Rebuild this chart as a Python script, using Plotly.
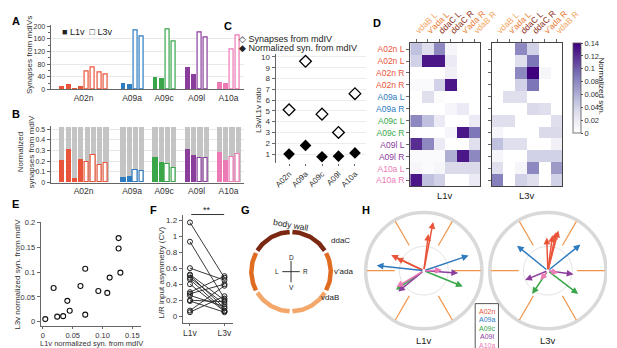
import numpy as np
import plotly.graph_objects as go

W, H = 617, 348
FONT = "Arial, 'Liberation Sans', Helvetica, sans-serif"
TXT = "#333333"
AXC = "#666666"


def px(x):
    return x / W


def py(y):
    return 1 - y / H


# ---------------- data ----------------
GROUPS = ["A02n", "A09a", "A09c", "A09l", "A10a"]
GROUP_COLORS = ["#e9553b", "#2f7bbf", "#3aa64a", "#8b3d9c", "#ec7ab5"]

# A: synapses from mdIVs (per neuron), L1v filled / L3v open
A_L1V = [[10, 16, 1, 8], [18, 17], [38, 35], [70, 46], [22, 18]]
A_L3V = [[56, 68, 53, 47], [188, 167], [189, 153], [180, 166], [128, 170]]

# B: normalized synapses from mdIV
B_L1V = [[0.21, 0.31, 0.045, 0.22], [0.055, 0.065], [0.24, 0.195], [0.31, 0.26], [0.285, 0.21]]
B_L3V = [[0.19, 0.26, 0.165, 0.18], [0.12, 0.11], [0.175, 0.135], [0.225, 0.225], [0.24, 0.27]]
B_TOTAL = 0.52

# C: L3v/L1v ratio
C_SYN_RATIO = [5.1, 9.6, 4.7, 3.0, 6.6]
C_NORM_RATIO = [1.0, 1.8, 0.75, 0.8, 1.1]

# D: heatmaps
D_ROWS = ["A02n L", "A02n L", "A02n R", "A02n R", "A09a L", "A09a R",
          "A09c L", "A09c R", "A09l L", "A09l R", "A10a L", "A10a R"]
D_ROW_GROUP = [0, 0, 0, 0, 1, 1, 2, 2, 3, 3, 4, 4]
D_COLS = ["vdaB L", "v'ada L", "ddaC L", "ddaC R", "v'ada R", "vdaB R"]
D_COL_COLORS = ["#f4a45c", "#e8772c", "#8a2a12", "#8a2a12", "#e8772c", "#f4a45c"]
D_L1V = [
    [0.05, 0.03, 0.08, 0.01, 0.0, 0.0],
    [0.04, 0.13, 0.13, 0.02, 0.0, 0.0],
    [0.0, 0.0, 0.0, 0.015, 0.0, 0.0],
    [0.005, 0.005, 0.04, 0.13, 0.0, 0.0],
    [0.0, 0.03, 0.003, 0.0, 0.0, 0.0],
    [0.0, 0.0, 0.0, 0.01, 0.02, 0.0],
    [0.08, 0.05, 0.02, 0.0, 0.0, 0.02],
    [0.0, 0.0, 0.0, 0.01, 0.13, 0.09],
    [0.12, 0.08, 0.02, 0.0, 0.0, 0.03],
    [0.005, 0.005, 0.005, 0.06, 0.13, 0.08],
    [0.01, 0.005, 0.01, 0.035, 0.035, 0.035],
    [0.13, 0.05, 0.04, 0.0, 0.0, 0.02],
]
D_L3V = [
    [0.0, 0.0, 0.08, 0.04, 0.0, 0.0],
    [0.0, 0.0, 0.03, 0.09, 0.0, 0.0],
    [0.0, 0.0, 0.08, 0.14, 0.01, 0.0],
    [0.0, 0.0, 0.04, 0.09, 0.0, 0.0],
    [0.0, 0.03, 0.03, 0.0, 0.0, 0.0],
    [0.0, 0.0, 0.0, 0.035, 0.03, 0.0],
    [0.03, 0.03, 0.0, 0.0, 0.0, 0.03],
    [0.01, 0.0, 0.0, 0.0, 0.035, 0.035],
    [0.05, 0.03, 0.03, 0.0, 0.0, 0.015],
    [0.01, 0.0, 0.0, 0.04, 0.04, 0.04],
    [0.03, 0.0, 0.01, 0.08, 0.0, 0.07],
    [0.085, 0.0, 0.04, 0.03, 0.0, 0.04],
]
D_CB_TICKS = [0, 0.02, 0.04, 0.06, 0.08, 0.1, 0.12, 0.14]

# E: scatter
E_L1V = [0.004, 0.018, 0.024, 0.034, 0.041, 0.045, 0.063, 0.071, 0.071, 0.093, 0.108, 0.112, 0.127, 0.127, 0.130]
E_L3V = [0.005, 0.068, 0.010, 0.011, 0.042, 0.022, 0.072, 0.107, 0.014, 0.062, 0.058, 0.089, 0.148, 0.169, 0.099]

# F: L/R input asymmetry
F_L1V = [1.17, 0.93, 0.60, 0.52, 0.51, 0.48, 0.46, 0.40, 0.30, 0.28, 0.26, 0.20, 0.19, 0.07, 0.05]
F_L3V = [0.48, 0.22, 0.45, 0.20, 0.10, 0.15, 0.07, 0.06, 0.50, 0.40, 0.12, 0.18, 0.05, 0.38, 0.25]

# G: body wall segments (name, start deg, end deg)
G_NAMES = ["ddaC", "ddaC", "v'ada", "vdaB", "vdaB", "v'ada"]
G_START = [32, 92, 152, 212, 272, 332]
G_END = [88, 148, 208, 268, 328, 388]
G_COLORS = {"ddaC": "#7b2812", "v'ada": "#e06c22", "vdaB": "#f3a76a"}

# H: input vectors (group index, x, y) in units of the outer ring radius
H_L1V_G = [0, 0, 0, 0, 1, 1, 2, 2, 3, 3, 4, 4]
H_L1V_X = [0.16, 0.08, -0.56, -0.47, -0.81, 0.77, 0.67, -0.48, 0.59, -0.44, 0.31, -0.47]
H_L1V_Y = [0.84, 0.63, 0.27, 0.22, 0.09, 0.26, -0.27, -0.33, -0.04, -0.36, 0.01, -0.28]
H_L3V_G = [0, 0, 0, 0, 1, 1, 2, 2, 3, 3, 4, 4]
H_L3V_X = [-0.02, 0.08, 0.14, 0.18, -0.53, 0.56, 0.52, -0.27, -0.39, 0.44, -0.13, 0.18]
H_L3V_Y = [0.57, 0.61, 0.66, 0.69, 0.43, 0.45, -0.40, -0.40, -0.16, -0.06, -0.16, -0.04]

# ---------------- figure ----------------
fig = go.Figure()

GROUP_CENTER = [77, 127, 160, 193.5, 226.5]
SLOT = 6.5
BAR_W = 5.0

for g, name in enumerate(GROUPS):
    col = GROUP_COLORS[g]
    n1, n3 = len(A_L1V[g]), len(A_L3V[g])
    n = n1 + n3
    xs = [GROUP_CENTER[g] + (k - (n - 1) / 2) * SLOT for k in range(n)]
    fig.add_trace(go.Bar(x=xs[:n1], y=A_L1V[g], width=BAR_W,
                         marker=dict(color=col, line=dict(width=0)),
                         xaxis="x", yaxis="y", showlegend=False, hoverinfo="skip"))
    fig.add_trace(go.Bar(x=xs[n1:], y=A_L3V[g], width=BAR_W - 0.8,
                         marker=dict(color="white", line=dict(color=col, width=1.2)),
                         xaxis="x", yaxis="y", showlegend=False, hoverinfo="skip"))
    fig.add_trace(go.Bar(x=xs, y=[B_TOTAL] * n, width=BAR_W + 0.3,
                         marker=dict(color="#c4c4c4", line=dict(width=0)),
                         xaxis="x2", yaxis="y2", showlegend=False, hoverinfo="skip"))
    fig.add_trace(go.Bar(x=xs[:n1], y=B_L1V[g], width=BAR_W + 0.3,
                         marker=dict(color=col, line=dict(width=0)),
                         xaxis="x2", yaxis="y2", showlegend=False, hoverinfo="skip"))
    fig.add_trace(go.Bar(x=xs[n1:], y=B_L3V[g], width=BAR_W - 0.6,
                         marker=dict(color="white", line=dict(color=col, width=1.2)),
                         xaxis="x2", yaxis="y2", showlegend=False, hoverinfo="skip"))

# C
cx = list(range(len(GROUPS)))
fig.add_trace(go.Scatter(x=cx, y=C_SYN_RATIO, mode="markers",
                         marker=dict(symbol="diamond-open", size=9, color="black", line=dict(width=1.3)),
                         xaxis="x3", yaxis="y3", showlegend=False))
fig.add_trace(go.Scatter(x=cx, y=C_NORM_RATIO, mode="markers",
                         marker=dict(symbol="diamond", size=9, color="black"),
                         xaxis="x3", yaxis="y3", showlegend=False))

# D
fig.add_trace(go.Heatmap(z=D_L1V, x=list(range(6)), y=list(range(12)), coloraxis="coloraxis",
                         xaxis="x4", yaxis="y4"))
fig.add_trace(go.Heatmap(z=D_L3V, x=list(range(6)), y=list(range(12)), coloraxis="coloraxis",
                         xaxis="x5", yaxis="y5"))

# E
fig.add_trace(go.Scatter(x=E_L1V, y=E_L3V, mode="markers",
                         marker=dict(symbol="circle-open", size=5, color="#111", line=dict(width=1.1)),
                         xaxis="x6", yaxis="y6", showlegend=False))

# F
fx, fy = [], []
for a, b in zip(F_L1V, F_L3V):
    fx += [0, 1, None]
    fy += [a, b, None]
fig.add_trace(go.Scatter(x=fx, y=fy, mode="lines+markers",
                         line=dict(color="#222", width=0.9),
                         marker=dict(symbol="circle-open", size=5, color="#222", line=dict(width=1)),
                         xaxis="x7", yaxis="y7", showlegend=False))

# G arcs
for nm, a0, a1 in zip(G_NAMES, G_START, G_END):
    t = np.radians(np.linspace(a0, a1, 40))
    fig.add_trace(go.Scatter(x=np.cos(t), y=np.sin(t), mode="lines",
                             line=dict(color=G_COLORS[nm], width=4.5),
                             xaxis="x8", yaxis="y8", showlegend=False, hoverinfo="skip"))
fig.add_trace(go.Scatter(x=[-0.22, 0.22, None, 0, 0], y=[0, 0, None, -0.27, 0.27], mode="lines",
                         line=dict(color="#333", width=1), xaxis="x8", yaxis="y8",
                         showlegend=False, hoverinfo="skip"))


def ax(**kw):
    base = dict(showgrid=False, zeroline=False, showline=True, linecolor=AXC, linewidth=1,
                ticks="outside", ticklen=3, tickwidth=1, tickcolor=AXC,
                tickfont=dict(size=8, color=TXT, family=FONT), fixedrange=True)
    base.update(kw)
    return base


def hid(**kw):
    base = dict(visible=False, fixedrange=True)
    base.update(kw)
    return base


def colored(text, color):
    return f"<span style='color:{color}'>{text}</span>"


layout = dict(
    width=W, height=H, margin=dict(l=0, r=0, t=0, b=0),
    paper_bgcolor="white", plot_bgcolor="white", barmode="overlay", bargap=0,
    font=dict(family=FONT, size=8, color=TXT), showlegend=False,
    # A
    xaxis=ax(domain=[px(43), px(242)], range=[43, 242], anchor="y", tickmode="array",
             tickvals=GROUP_CENTER, ticktext=GROUPS, ticks="", tickfont=dict(size=8.5, color=TXT)),
    yaxis=ax(domain=[py(75.7), py(9.75)], range=[0, 203], anchor="x", tick0=0, dtick=40,
             showgrid=True, gridcolor="#e8e8e8", gridwidth=0.8, tickfont=dict(size=7, color=TXT),
             minor=dict(dtick=20, ticks="outside", ticklen=2, tickcolor=AXC)),
    # B
    xaxis2=ax(domain=[px(43), px(242)], range=[43, 242], anchor="y2", tickmode="array",
              tickvals=GROUP_CENTER, ticktext=GROUPS, ticks="", tickfont=dict(size=8.5, color=TXT)),
    yaxis2=ax(domain=[py(172), py(113.7)], range=[0, 0.53], anchor="x2", tickmode="array",
              tickvals=[0, 0.1, 0.2, 0.3, 0.4, 0.5], ticktext=["0", "0.1", "0.2", "0.3", "0.4", "0.5"],
              showgrid=True, gridcolor="#e8e8e8", gridwidth=0.8, tickfont=dict(size=7, color=TXT)),
    # C
    xaxis3=ax(domain=[px(275), px(368)], range=[-0.82, 4.65], anchor="y3", tickmode="array",
              tickvals=cx, ticktext=GROUPS, tickangle=-45, showline=False, ticklen=2),
    yaxis3=ax(domain=[py(152), py(39)], range=[0.15, 10.3], anchor="x3", tickmode="array",
              tickvals=list(range(1, 11)), showgrid=True, gridcolor="#ececec", gridwidth=0.8),
    # D
    xaxis4=ax(domain=[px(414), px(486)], range=[-0.5, 5.5], anchor="y4", side="top", mirror=True,
              linecolor="#444", linewidth=1.2, tickmode="array", tickvals=list(range(6)),
              ticktext=[colored(c, k) for c, k in zip(D_COLS, D_COL_COLORS)], tickangle=-45,
              tickfont=dict(size=8.5)),
    yaxis4=ax(domain=[py(176), py(28)], range=[11.5, -0.5], anchor="x4", mirror=True,
              linecolor="#444", linewidth=1.2, tickmode="array", tickvals=list(range(12)),
              ticktext=[colored(r, GROUP_COLORS[g]) for r, g in zip(D_ROWS, D_ROW_GROUP)],
              tickfont=dict(size=8.5)),
    xaxis5=ax(domain=[px(498), px(571)], range=[-0.5, 5.5], anchor="y5", side="top", mirror=True,
              linecolor="#444", linewidth=1.2, tickmode="array", tickvals=list(range(6)),
              ticktext=[colored(c, k) for c, k in zip(D_COLS, D_COL_COLORS)], tickangle=-45,
              tickfont=dict(size=8.5)),
    yaxis5=ax(domain=[py(176), py(28)], range=[11.5, -0.5], anchor="x5", mirror=True,
              linecolor="#444", linewidth=1.2, tickmode="array", tickvals=list(range(12)),
              showticklabels=False),
    coloraxis=dict(cmin=0, cmax=0.14,
                   colorscale=[[0, "#ffffff"], [0.125, "#efedf5"], [0.25, "#dadaeb"], [0.375, "#bcbddc"],
                               [0.5, "#9e9ac8"], [0.625, "#807dba"], [0.75, "#6a51a3"],
                               [0.875, "#54278f"], [1, "#3f007d"]],
                   colorbar=dict(x=px(582), xanchor="left", xpad=0, y=py(28), yanchor="top", ypad=0,
                                 len=(121 - 28) / H, lenmode="fraction", thickness=8,
                                 outlinewidth=0.8, outlinecolor="#555", tickmode="array",
                                 tickvals=D_CB_TICKS,
                                 ticktext=["0", "0.02", "0.04", "0.06", "0.08", "0.1", "0.12", "0.14"],
                                 ticks="outside", ticklen=2, tickcolor="#555",
                                 tickfont=dict(size=7.5, color=TXT))),
    # E
    xaxis6=ax(domain=[px(32.7), px(136.7)], range=[-0.0037, 0.1654], anchor="y6", tickmode="array",
              tickvals=[0, 0.05, 0.1, 0.15], ticktext=["0", "0.05", "0.10", "0.15"],
              ticklen=2, tickfont=dict(size=7.5, color=TXT)),
    yaxis6=ax(domain=[py(320.5), py(213)], range=[-0.0097, 0.201], anchor="x6", tickmode="array",
              tickvals=[0, 0.05, 0.1, 0.15, 0.2], ticktext=["0", "0.05", "0.1", "0.15", "0.2"],
              tickfont=dict(size=7.5, color=TXT)),
    # F
    xaxis7=ax(domain=[px(179.3), px(231)], range=[-0.208, 1.244], anchor="y7", tickmode="array",
              tickvals=[0, 1], ticktext=["L1v", "L3v"], ticklen=2, tickfont=dict(size=8.5, color=TXT)),
    yaxis7=ax(domain=[py(317.3), py(205)], range=[-0.088, 1.269], anchor="x7", tickmode="array",
              tickvals=[0, 0.2, 0.4, 0.6, 0.8, 1.0, 1.2], ticktext=["0", "0.2", "0.4", "0.6", "0.8", "1", "1.2"]),
    # G
    xaxis8=hid(domain=[px(246), px(336)], range=[-45 / 41, 45 / 41], anchor="y8"),
    yaxis8=hid(domain=[py(309), py(219)], range=[-45 / 41, 45 / 41], anchor="x8"),
    # H
    xaxis9=hid(domain=[px(365), px(491)], range=[-1.05, 1.05], anchor="y9"),
    yaxis9=hid(domain=[py(326), py(200)], range=[-1.05, 1.05], anchor="x9"),
    xaxis10=hid(domain=[px(493), 1.0], range=[-1.05, 1.0167], anchor="y10"),
    yaxis10=hid(domain=[py(326), py(200)], range=[-1.05, 1.05], anchor="x10"),
)
fig.update_layout(**layout)

shapes = []
ann = []

# H circles, radial lines, arrows
for k, (xr, yr, gs, xs_, ys_) in enumerate([("x9", "y9", H_L1V_G, H_L1V_X, H_L1V_Y),
                                            ("x10", "y10", H_L3V_G, H_L3V_X, H_L3V_Y)]):
    shapes.append(dict(type="circle", xref=xr, yref=yr, x0=-1, y0=-1, x1=1, y1=1,
                       line=dict(color="#d9d9d9", width=3.5), layer="below"))
    shapes.append(dict(type="circle", xref=xr, yref=yr, x0=-0.42, y0=-0.42, x1=0.42, y1=0.42,
                       line=dict(color="#dcdcdc", width=0.8), layer="below"))
    for a in range(0, 360, 60):
        t = np.radians(a)
        shapes.append(dict(type="line", xref=xr, yref=yr, x0=0.5 * np.cos(t), y0=0.5 * np.sin(t),
                           x1=0.98 * np.cos(t), y1=0.98 * np.sin(t),
                           line=dict(color="#f0964c", width=1.2), layer="below"))
    for g, x, y in zip(gs, xs_, ys_):
        ann.append(dict(x=x, y=y, xref=xr, yref=yr, ax=0, ay=0, axref=xr, ayref=yr, text="",
                        showarrow=True, arrowhead=2, arrowsize=0.9, arrowwidth=1.5,
                        arrowcolor=GROUP_COLORS[g], standoff=0, startstandoff=0))

# H legend box
shapes.append(dict(type="rect", xref="paper", yref="paper", x0=px(481), x1=px(505), y0=py(346), y1=py(297),
                   line=dict(color="#555", width=1)))
for i, (gname, gc) in enumerate(zip(GROUPS, GROUP_COLORS)):
    ann.append(dict(x=px(493), y=py(305 + 8.8 * i), xref="paper", yref="paper", text=gname,
                    showarrow=False, font=dict(size=7, color=gc), xanchor="center", yanchor="middle"))

# F significance bar
shapes.append(dict(type="line", xref="paper", yref="paper", x0=px(188), x1=px(222), y0=py(205), y1=py(205),
                   line=dict(color="#333", width=1)))


def text(x, y, s, size=8, color=TXT, angle=0, xanchor="center", bold=False):
    ann.append(dict(x=px(x), y=py(y), xref="paper", yref="paper", text=f"<b>{s}</b>" if bold else s,
                    showarrow=False, textangle=angle, xanchor=xanchor, yanchor="middle",
                    font=dict(size=size, color=color, family=FONT)))


# panel letters
for L, x, y in [("A", 1, 5), ("B", 1, 101), ("C", 220, 10), ("D", 373, 7), ("E", 1, 194),
                ("F", 143, 200), ("G", 237, 200), ("H", 362, 200)]:
    text(x, y, L, size=11, color="black", xanchor="left", bold=True)

# axis titles
text(21, 40, "Synapses from mdIVs", angle=-90)
text(17.5, 140, "Normalized<br>synapses from mdIV", angle=-90)
text(258, 97, "L3v/L1v ratio", angle=-90)
text(8.5, 267, "L3v normalized syn. from mdIV", angle=-90)
text(85, 338.5, "L1v normalized syn. from mdIV", size=7.5)
text(157, 265, "L/R input asymmetry (CV)", angle=-90)
text(204, 200, "**", size=9, color="#222")

# legends
text(53, 17, "■ L1v  □ L3v", size=9, color="#222", xanchor="left")
text(235, 24, "◇ Synapses from mdIV", size=9, color="#222", xanchor="left")
text(235, 33, "◆ Normalized syn. from mdIV", size=9, color="#222", xanchor="left")

# D titles and colorbar title
text(450, 185, "L1v", size=9.5, color="#222")
text(534, 185, "L3v", size=9.5, color="#222")
text(611, 72, "Normalized syn.", size=8, color="#222", angle=90)

# G labels
text(291, 216, "body wall", size=8.5, color="#222", angle=10)
text(342, 232, "ddaC", size=8, color="#222")
text(345, 264, "v'ada", size=8, color="#222")
text(331, 291, "vdaB", size=8, color="#222")
text(291, 249, "D", size=6.5, color="#222")
text(291, 280, "V", size=6.5, color="#222")
text(276, 264, "L", size=6.5, color="#222")
text(306, 264, "R", size=6.5, color="#222")

# H titles
text(428, 335, "L1v", size=9.5, color="#222")
text(556, 335, "L3v", size=9.5, color="#222")

fig.update_layout(shapes=shapes, annotations=ann)
fig.write_html("out.html")
